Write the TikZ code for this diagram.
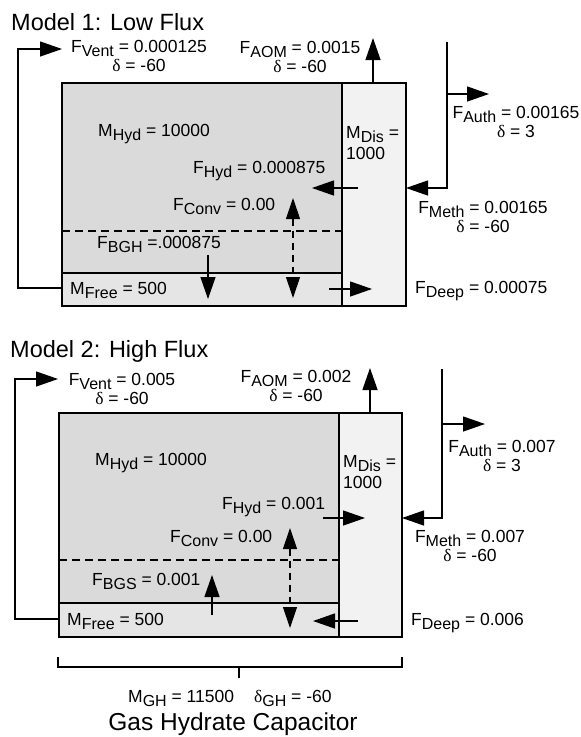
\documentclass[tikz,border=0pt]{standalone}
\usepackage{fontspec}
\setmainfont{Liberation Sans}
\newfontfamily\grkfont{Liberation Serif}
\usetikzlibrary{arrows.meta}
\newcommand{\dl}{{\grkfont δ}}
\newcommand{\lowsub}[1]{\raisebox{-4pt}{\fontsize{16}{16}\selectfont #1}}
\definecolor{hydgray}{gray}{0.855}
\definecolor{freegray}{gray}{0.9}
\definecolor{disgray}{gray}{0.95}
\tikzset{
  lbl/.style={font=\fontsize{17.5}{19}\selectfont, inner sep=0pt},
  ttl/.style={font=\fontsize{23.5}{25}\selectfont, inner sep=0pt, anchor=base west},
  box/.style={draw, line width=1.4pt},
  flux/.style={line width=1.3pt, -{Triangle[length=22pt,width=15pt]}},
  conv/.style={line width=1.2pt, dash pattern=on 7pt off 5pt, {Triangle[length=21pt,width=14pt]}-{Triangle[length=21pt,width=14pt]}},
  layer/.style={line width=1.2pt, dash pattern=on 8pt off 5pt},
}
\begin{document}
\begin{tikzpicture}[x=1pt,y=-1pt]
\useasboundingbox (0,0) rectangle (581,737);

\node[ttl] (title1) at (11,30) {Model 1: Low Flux};
\fill[hydgray] (62,83) rectangle (342,273);
\fill[freegray] (62,273) rectangle (342,306);
\fill[disgray] (342,83) rectangle (406,306);
\draw[box] (62,83) rectangle (406,306);
\draw[box] (342,83) -- (342,306);
\draw[line width=1.2pt] (62,273) -- (342,273);
\draw[layer] (62,231) -- (342,231);
\node[lbl, anchor=base, align=center] (vent1) at (139,71) {F\lowsub{Vent} = 0.000125\\\dl{} = -60};
\node[lbl, anchor=base, align=center] (aom1) at (300,72) {F\lowsub{AOM} = 0.0015\\\dl{} = -60};
\node[lbl, anchor=base, align=center] (auth1) at (516,137) {F\lowsub{Auth} = 0.00165\\\dl{} = 3};
\node[lbl, anchor=base, align=center] (meth1) at (483,232) {F\lowsub{Meth} = 0.00165\\\dl{} = -60};
\node[lbl, anchor=base west] (mhyd1) at (98,136) {M\lowsub{Hyd} = 10000};
\node[lbl, anchor=base west, align=left] (mdis1) at (346,159) {M\lowsub{Dis} =\\[2pt]1000};
\node[lbl, anchor=base west] (fhyd1) at (193,173) {F\lowsub{Hyd} = 0.000875};
\node[lbl, anchor=base west] (fconv1) at (173,210) {F\lowsub{Conv} = 0.00};
\node[lbl, anchor=base west] (fbgh1) at (97,248) {F\lowsub{BGH} =.000875};
\node[lbl, anchor=base west] (mfree1) at (70,294) {M\lowsub{Free} = 500};
\node[lbl, anchor=base west] (fdeep1) at (415,293) {F\lowsub{Deep} = 0.00075};
\coordinate (free1w) at (62,288);
\coordinate (vent1tip) at (62,49);
\coordinate (dis1n) at (373,83);
\coordinate (aom1tip) at (373,38);
\coordinate (auth1top) at (447,42);
\coordinate (auth1br) at (447,94);
\coordinate (auth1tip) at (489,94);
\coordinate (dis1e) at (406,188);
\draw[flux] (free1w) -- ++(-44,0) |- (vent1tip);
\draw[flux] (dis1n) -- (aom1tip);
\draw[line width=1.3pt] (auth1top) -- (auth1br);
\draw[flux] (auth1br) -- (auth1tip);
\draw[flux] (auth1br) |- (dis1e);
\draw[flux] (358,188) -- (312,188);
\draw[conv] (293,198) -- (293,298);
\draw[flux] (208,255) -- (208,299);
\draw[flux] (329,289) -- (372,289);

\node[ttl] (title2) at (10,357) {Model 2: High Flux};
\fill[hydgray] (59,413) rectangle (339,603);
\fill[freegray] (59,603) rectangle (339,637);
\fill[disgray] (339,413) rectangle (402,637);
\draw[box] (59,413) rectangle (402,637);
\draw[box] (339,413) -- (339,637);
\draw[line width=1.2pt] (59,603) -- (339,603);
\draw[layer] (59,560) -- (339,560);
\node[lbl, anchor=base, align=center] (vent2) at (122,404) {F\lowsub{Vent} = 0.005\\\dl{} = -60};
\node[lbl, anchor=base, align=center] (aom2) at (296,401) {F\lowsub{AOM} = 0.002\\\dl{} = -60};
\node[lbl, anchor=base, align=center] (auth2) at (502,471) {F\lowsub{Auth} = 0.007\\\dl{} = 3};
\node[lbl, anchor=base, align=center] (meth2) at (470,561) {F\lowsub{Meth} = 0.007\\\dl{} = -60};
\node[lbl, anchor=base west] (mhyd2) at (95,465) {M\lowsub{Hyd} = 10000};
\node[lbl, anchor=base west, align=left] (mdis2) at (343,488) {M\lowsub{Dis} =\\[2pt]1000};
\node[lbl, anchor=base west] (fhyd2) at (222,509) {F\lowsub{Hyd} = 0.001};
\node[lbl, anchor=base west] (fconv2) at (170,542) {F\lowsub{Conv} = 0.00};
\node[lbl, anchor=base west] (fbgs2) at (92,585) {F\lowsub{BGS} = 0.001};
\node[lbl, anchor=base west] (mfree2) at (67,625) {M\lowsub{Free} = 500};
\node[lbl, anchor=base west] (fdeep2) at (411,625) {F\lowsub{Deep} = 0.006};
\coordinate (free2w) at (59,619);
\coordinate (vent2tip) at (58,379);
\coordinate (dis2n) at (370,413);
\coordinate (aom2tip) at (370,368);
\coordinate (auth2top) at (442,369);
\coordinate (auth2br) at (442,424);
\coordinate (auth2tip) at (485,424);
\coordinate (dis2e) at (402,518);
\draw[flux] (free2w) -- ++(-44,0) |- (vent2tip);
\draw[flux] (dis2n) -- (aom2tip);
\draw[line width=1.3pt] (auth2top) -- (auth2br);
\draw[flux] (auth2br) -- (auth2tip);
\draw[flux] (auth2br) |- (dis2e);
\draw[flux] (323,518) -- (365,518);
\draw[conv] (290,528) -- (290,628);
\draw[flux] (212,615) -- (212,575);
\draw[flux] (358,621) -- (313,621);

\draw[line width=1.2pt] (58,657) -- (58,667) -- (402,667) -- (402,657);
\draw[line width=1.2pt] (239,667) -- (239,678);
\node[lbl, anchor=base west] (mgh) at (128,702) {M\lowsub{GH} = 11500\hspace{20pt}\dl\lowsub{GH} = -60};
\node[ttl, anchor=base, font=\fontsize{24.5}{26}\selectfont] (cap) at (233,730) {Gas Hydrate Capacitor};
\end{tikzpicture}
\end{document}
